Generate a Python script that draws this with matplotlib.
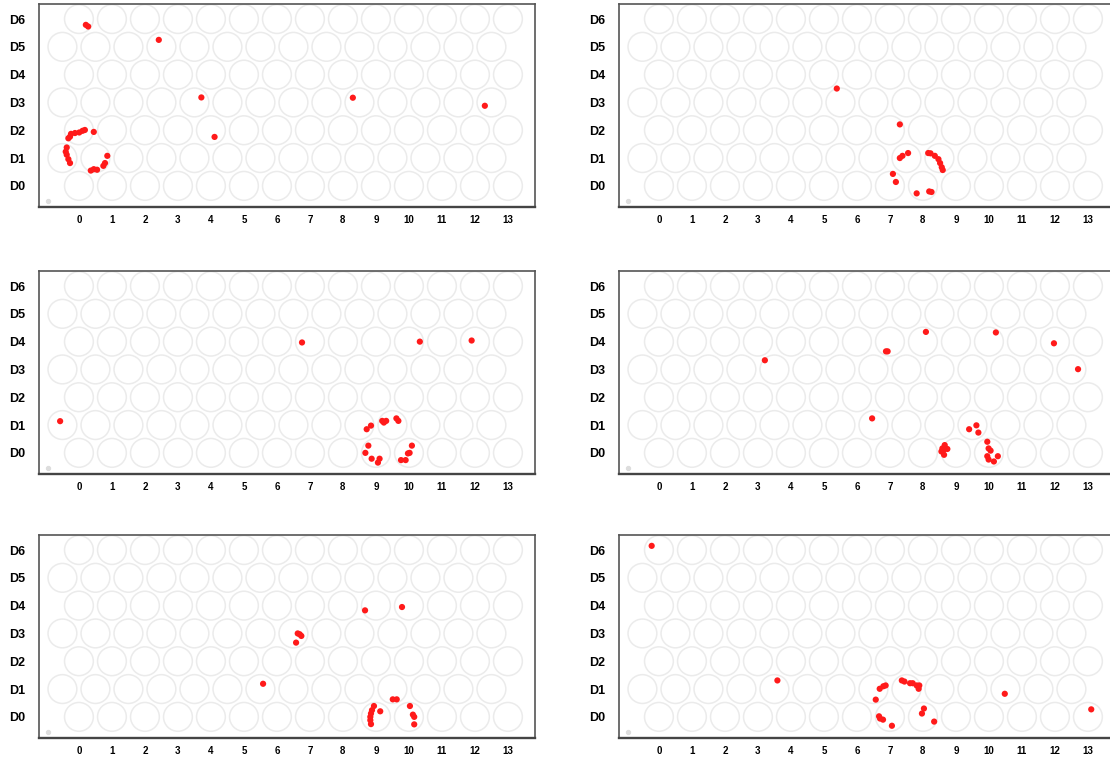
import numpy as np
import matplotlib
matplotlib.use("Agg")
import matplotlib.pyplot as plt

plt.rcParams["font.family"] = ["Liberation Sans", "DejaVu Sans"]

# grid of wells: even rows at 0..13, odd rows shifted half a step
row_labels = ["D0", "D1", "D2", "D3", "D4", "D5", "D6"]
col_labels = [str(i) for i in range(14)]

# red points per panel
p1_x = [0.21, 0.28, 2.42, 3.71, 4.11, 8.30, 12.30,
        0.45, 0.18, 0.11, 0.01, -0.12, -0.24, -0.27, -0.32,
        -0.37, -0.40, -0.37, -0.32, -0.27,
        0.36, 0.45, 0.55, 0.74, 0.79, 0.86]
p1_y = [5.79, 5.73, 5.25, 3.18, 1.76, 3.17, 2.88,
        1.94, 2.01, 1.98, 1.92, 1.90, 1.87, 1.77, 1.71,
        1.38, 1.23, 1.12, 0.96, 0.82,
        0.55, 0.60, 0.58, 0.72, 0.82, 1.08]

p2_x = [5.39, 7.30, 7.55, 7.38, 7.30, 7.09, 7.18,
        8.16, 8.23, 8.36, 8.47, 8.52, 8.57, 8.60,
        7.81, 8.19, 8.26]
p2_y = [3.50, 2.21, 1.18, 1.08, 1.00, 0.43, 0.14,
        1.18, 1.17, 1.08, 0.96, 0.82, 0.67, 0.57,
        -0.27, -0.20, -0.22]

p3_x = [-0.57, 6.76, 10.33, 11.90,
        8.72, 8.85, 9.19, 9.24, 9.31, 9.62, 9.68,
        8.77, 8.68, 8.87, 9.06, 9.11,
        9.76, 9.90, 9.97, 10.02, 10.09]
p3_y = [1.14, 3.97, 4.00, 4.04,
        0.85, 0.98, 1.15, 1.09, 1.15, 1.24, 1.15,
        0.26, 0.00, -0.21, -0.35, -0.21,
        -0.26, -0.26, -0.02, 0.00, 0.26]

p4_x = [3.21, 6.88, 6.93, 8.09, 10.21, 11.97, 12.70, 6.46,
        9.40, 9.62, 9.68,
        8.66, 8.59, 8.74, 8.56, 8.64, 8.62,
        9.95, 9.99, 10.05, 9.95, 9.99, 10.15, 10.27]
p4_y = [3.33, 3.65, 3.65, 4.35, 4.33, 3.94, 3.01, 1.24,
        0.85, 0.99, 0.73,
        0.28, 0.16, 0.14, 0.05, -0.07, 0.10,
        0.40, 0.16, 0.08, -0.12, -0.24, -0.31, -0.12]

p5_x = [8.67, 9.79, 6.63, 6.69, 6.74, 6.58, 5.58,
        9.51, 9.63,
        8.94, 8.88, 8.85, 8.83, 8.83, 8.85, 9.13,
        10.03, 10.12, 10.16, 10.16]
p5_y = [3.83, 3.95, 3.00, 2.97, 2.91, 2.67, 1.19,
        0.63, 0.63,
        0.39, 0.24, 0.12, 0.00, -0.12, -0.26, 0.20,
        0.39, 0.08, 0.00, -0.27]

p6_x = [-0.22, 3.59, 10.48, 13.10,
        6.57, 6.69, 6.80, 6.87, 7.36, 7.44, 7.61, 7.69, 7.81, 7.89, 7.87,
        6.67, 6.70, 6.79, 7.06, 8.03, 7.97, 8.34]
p6_y = [6.15, 1.31, 0.83, 0.27,
        0.62, 1.01, 1.10, 1.13, 1.31, 1.27, 1.21, 1.21, 1.13, 1.13, 1.01,
        0.02, -0.06, -0.10, -0.32, 0.30, 0.12, -0.17]

panels = [(p1_x, p1_y), (p2_x, p2_y), (p3_x, p3_y),
          (p4_x, p4_y), (p5_x, p5_y), (p6_x, p6_y)]

W, H = 1110, 760
fig = plt.figure(figsize=(W / 100, H / 100), dpi=100)

lefts = [39, 619]
tops = [4, 271, 535]
pw, ph = 496, 203

# well centres
wx, wy = [], []
for r in range(7):
    off = -0.5 if r % 2 else 0.0
    for c in range(14):
        wx.append(c + off)
        wy.append(r)

for i, (px, py) in enumerate(panels):
    row, col = divmod(i, 2)
    l, t = lefts[col], tops[row]
    ax = fig.add_axes([l / W, 1 - (t + ph) / H, pw / W, ph / H])
    ax.scatter(wx, wy, s=430, facecolors="none", edgecolors="#ebebeb",
               linewidths=1.1, zorder=1)
    ax.scatter([-0.95], [-0.55], s=8, color="#dddddd", zorder=1)
    ax.scatter(px, py, s=20, color="#ff1a1a", edgecolors="none", zorder=3)
    ax.set_xlim(-1.21, 13.82)
    ax.set_ylim(-0.76, 6.54)
    ax.set_xticks(range(14))
    ax.set_xticklabels(col_labels, fontsize=7, fontweight="bold")
    ax.set_yticks(range(7))
    ax.set_yticklabels(row_labels, fontsize=9, fontweight="bold")
    ax.tick_params(length=0)
    ax.tick_params(axis="y", pad=10)
    ax.tick_params(axis="x", pad=6)
    for s in ax.spines.values():
        s.set_color("#555555")
        s.set_linewidth(1.2)
    ax.spines["bottom"].set_linewidth(1.7)
    ax.spines["bottom"].set_color("#444444")

fig.savefig("out.png", dpi=100)
